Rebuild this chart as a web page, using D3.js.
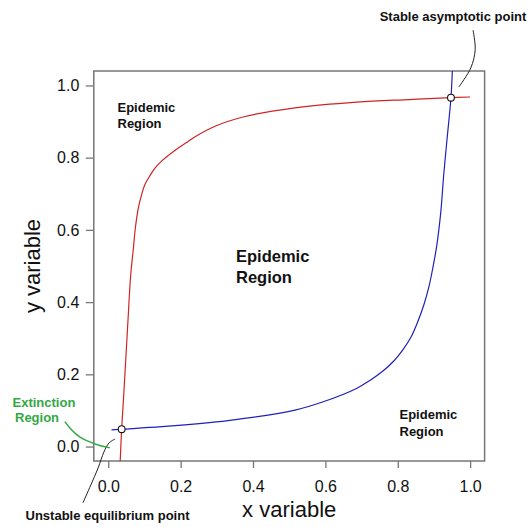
<!DOCTYPE html>
<html>
<head>
<meta charset="utf-8">
<script src="https://cdn.jsdelivr.net/npm/d3@7"></script>
<style>
  html, body { margin: 0; padding: 0; background: #fff; }
  svg { display: block; font-family: "Liberation Sans", Arial, Helvetica, sans-serif; }
</style>
</head>
<body>
<svg id="chart" width="528" height="527"></svg>
<script>
// Nullcline of x (red): points along the curve
const redX = [0.033, 0.037, 0.043, 0.053, 0.062, 0.069, 0.075, 0.083, 0.092, 0.101, 0.115, 0.129, 0.148, 0.184, 0.215, 0.240, 0.295, 0.378, 0.516, 0.687, 0.833, 0.947, 1.000];
const redY = [-0.040, 0.048, 0.148, 0.323, 0.475, 0.545, 0.606, 0.660, 0.697, 0.725, 0.750, 0.771, 0.791, 0.820, 0.841, 0.858, 0.887, 0.914, 0.938, 0.954, 0.961, 0.966, 0.968];

// Nullcline of y (blue)
const blueX = [0.009, 0.037, 0.147, 0.331, 0.516, 0.594, 0.686, 0.723, 0.759, 0.789, 0.814, 0.836, 0.855, 0.872, 0.886, 0.897, 0.908, 0.919, 0.927, 0.936, 0.947, 0.951];
const blueY = [0.046, 0.048, 0.055, 0.072, 0.101, 0.124, 0.161, 0.183, 0.209, 0.237, 0.268, 0.302, 0.345, 0.392, 0.442, 0.495, 0.558, 0.650, 0.752, 0.849, 0.966, 1.043];

// Equilibria: unstable (near origin) and stable (upper right)
const eqX = [0.037, 0.947];
const eqY = [0.048, 0.966];

// Axis ticks
const tickValues = [0, 0.2, 0.4, 0.6, 0.8, 1.0];
const tickLabels = ["0.0", "0.2", "0.4", "0.6", "0.8", "1.0"];

// Leader lines for the annotations (data coordinates)
const stableLeadX = [1.008, 1.014, 1.002, 0.969];
const stableLeadY = [1.153, 1.099, 1.049, 0.996];
const unstableLeadX = [-0.070, -0.048, -0.028, -0.012, 0.002, 0.019];
const unstableLeadY = [-0.156, -0.106, -0.059, -0.015, 0.010, 0.021];
const extinctLeadX = [-0.120, -0.101, -0.079, -0.051, -0.024, 0.004];
const extinctLeadY = [0.069, 0.046, 0.027, 0.013, 0.003, -0.003];

const svg = d3.select("#chart");
const x = d3.scaleLinear().domain([-0.04, 1.04]).range([93.8, 484.6]);
const y = d3.scaleLinear().domain([-0.04, 1.04]).range([461, 71]);

const boxColor = "#777";
const FONT = "'Liberation Sans', Arial, Helvetica, sans-serif";

svg.append("defs").append("clipPath").attr("id", "plotClip")
  .append("rect")
  .attr("x", x(-0.04)).attr("y", y(1.04))
  .attr("width", x(1.04) - x(-0.04)).attr("height", y(-0.04) - y(1.04));

// Axes
const xAxis = d3.axisBottom(x).tickValues(tickValues)
  .tickFormat((d, i) => tickLabels[i]).tickSize(7).tickPadding(13);
const gx = svg.append("g").attr("transform", `translate(0,${y(-0.04)})`).call(xAxis);
gx.select(".domain").remove();
gx.selectAll(".tick line").attr("stroke", boxColor).attr("stroke-width", 1.3);
gx.selectAll(".tick text").attr("fill", "#111").style("font-size", "16px").style("font-family", FONT);

const yAxis = d3.axisLeft(y).tickValues(tickValues)
  .tickFormat((d, i) => tickLabels[i]).tickSize(8).tickPadding(6.5);
const gy = svg.append("g").attr("transform", `translate(${x(-0.04)},0)`).call(yAxis);
gy.select(".domain").remove();
gy.selectAll(".tick line").attr("stroke", boxColor).attr("stroke-width", 1.3);
gy.selectAll(".tick text").attr("fill", "#111").style("font-size", "16px").style("font-family", FONT);

// Plot box
svg.append("rect")
  .attr("x", x(-0.04)).attr("y", y(1.04))
  .attr("width", x(1.04) - x(-0.04)).attr("height", y(-0.04) - y(1.04))
  .attr("fill", "none").attr("stroke", boxColor).attr("stroke-width", 1.5);

// Axis titles
svg.append("text").attr("x", (x(-0.04) + x(1.04)) / 2).attr("y", 517)
  .attr("text-anchor", "middle").style("font-size", "22px").attr("fill", "#111")
  .text("x variable");
svg.append("text")
  .attr("transform", `translate(40,${(y(-0.04) + y(1.04)) / 2}) rotate(-90)`)
  .attr("text-anchor", "middle").style("font-size", "22px").attr("fill", "#111")
  .text("y variable");

// Nullclines
const line = d3.line().x(d => x(d[0])).y(d => y(d[1])).curve(d3.curveCatmullRom.alpha(0.5));
const curves = svg.append("g").attr("clip-path", "url(#plotClip)");
curves.append("path").datum(d3.zip(redX, redY))
  .attr("d", line).attr("fill", "none").attr("stroke", "#cf2424").attr("stroke-width", 1.2);
curves.append("path").datum(d3.zip(blueX, blueY))
  .attr("d", line).attr("fill", "none").attr("stroke", "#2020bb").attr("stroke-width", 1.2);

// Leader lines
svg.append("path").datum(d3.zip(stableLeadX, stableLeadY))
  .attr("d", line).attr("fill", "none").attr("stroke", "#222").attr("stroke-width", 1);
svg.append("path").datum(d3.zip(unstableLeadX, unstableLeadY))
  .attr("d", line).attr("fill", "none").attr("stroke", "#222").attr("stroke-width", 1);
svg.append("path").datum(d3.zip(extinctLeadX, extinctLeadY))
  .attr("d", line).attr("fill", "none").attr("stroke", "#33a845").attr("stroke-width", 1.5);

// Equilibrium points
svg.selectAll("circle.eq").data(d3.zip(eqX, eqY)).join("circle")
  .attr("class", "eq")
  .attr("cx", d => x(d[0])).attr("cy", d => y(d[1])).attr("r", 3.4)
  .attr("fill", "#fff").attr("stroke", "#111").attr("stroke-width", 1.1);

// Region labels
function label(lines, px, py, size, anchor, color, lh) {
  const t = svg.append("text").attr("text-anchor", anchor)
    .style("font-size", size + "px").style("font-weight", "bold").attr("fill", color);
  lines.forEach((s, i) => {
    t.append("tspan").attr("x", Array.isArray(px) ? px[i] : px).attr("y", py + i * lh).text(s);
  });
}
label(["Epidemic", "Region"], 117.5, 112, 13, "start", "#111", 16);
label(["Epidemic", "Region"], 236, 262, 16.5, "start", "#111", 21);
label(["Epidemic", "Region"], 399.5, 419, 13, "start", "#111", 16.5);
label(["Extinction", "Region"], [12.5, 15], 406.5, 13, "start", "#33a845", 15.5);
label(["Stable asymptotic point"], 453, 21, 13, "middle", "#111", 0);
label(["Unstable equilibrium point"], 107.5, 519.5, 13, "middle", "#111", 0);
</script>
</body>
</html>
